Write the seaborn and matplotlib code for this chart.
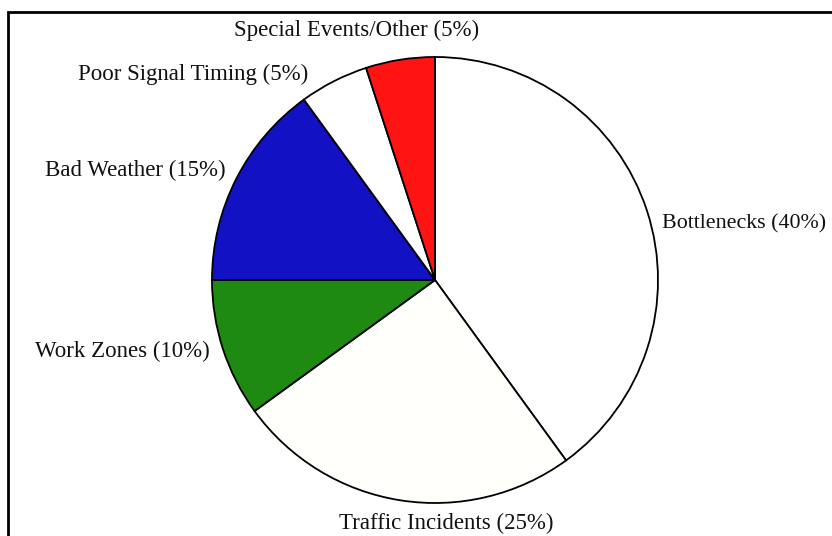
import matplotlib
matplotlib.use("Agg")
import matplotlib.pyplot as plt
import seaborn as sns
from matplotlib.patches import Rectangle

# data, clockwise from 12 o'clock
causes = ["Bottlenecks", "Traffic Incidents", "Work Zones", "Bad Weather",
          "Poor Signal Timing", "Special Events/Other"]
shares = [40, 25, 10, 15, 5, 5]
slice_colors = ["#ffffff", "#fffffc", "#1f8a12", "#1212c4", "#ffffff", "#ff1414"]

# label anchor points (axes data units, pie radius = 1) and alignment
label_xy = [(1.02, 0.25), (0.05, -1.09), (-1.01, -0.32), (-0.94, 0.49),
            (-0.57, 0.92), (-0.35, 1.12)]
label_ha = ["left", "center", "right", "right", "right", "center"]
label_size = [15.8, 16.5, 16.5, 16.5, 16.5, 16.5]

sns.set_theme(style="white")
plt.rcParams["font.family"] = ["Liberation Serif", "DejaVu Serif"]

W, H = 832, 536
fig = plt.figure(figsize=(W / 100, H / 100), dpi=100)
fig.patch.set_facecolor("white")

# pie of radius 223 px centred at (435, 280) from top-left
cx, cy, r = 435, 280, 223
ax = fig.add_axes([(cx - r) / W, (H - cy - r) / H, 2 * r / W, 2 * r / H])
ax.pie(shares, colors=slice_colors, startangle=90, counterclock=False,
       radius=1, wedgeprops=dict(edgecolor="black", linewidth=1.3))
ax.set_xlim(-1, 1)
ax.set_ylim(-1, 1)
ax.set_aspect("equal")
ax.axis("off")

for name, pct, (x, y), ha, fs in zip(causes, shares, label_xy, label_ha, label_size):
    ax.text(x, y, f"{name} ({pct}%)", ha=ha, va="center", fontsize=fs,
            color="#111111", clip_on=False)

# frame around the figure (runs off right and bottom edges)
fig.patches.append(Rectangle((8 / W, -0.05), 1.1, (H - 12) / H + 0.05,
                             transform=fig.transFigure, fill=False,
                             edgecolor="black", linewidth=2))

fig.savefig("out.png", dpi=100)
